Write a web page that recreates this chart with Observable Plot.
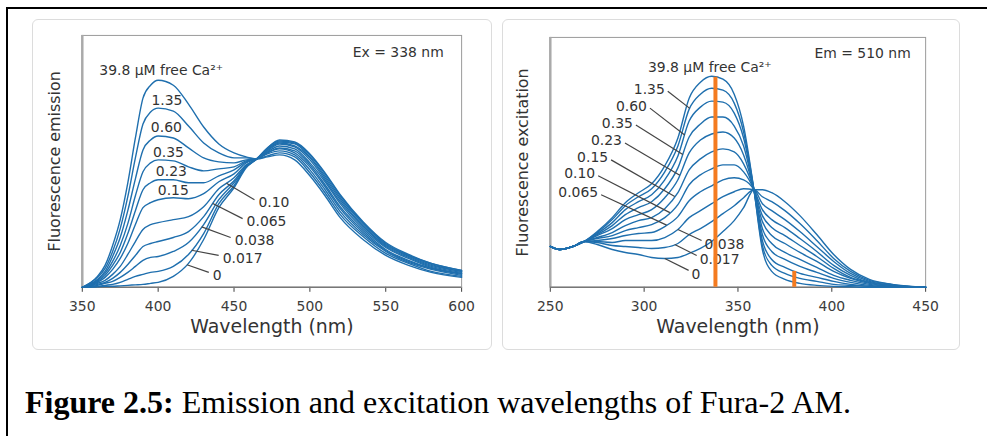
<!DOCTYPE html>
<html><head><meta charset="utf-8">
<script src="https://cdn.jsdelivr.net/npm/d3@7"></script>
<script src="https://cdn.jsdelivr.net/npm/@observablehq/plot@0.6"></script>
<style>
html,body{margin:0;padding:0;background:#fff;width:987px;height:436px;overflow:hidden;position:relative;font-family:"DejaVu Sans",sans-serif}
#outer{position:absolute;left:6px;top:7px;width:2000px;height:2000px;border:2px solid #000;box-sizing:border-box}
.panel{position:absolute;top:19px;height:331px;border:1px solid #dcdcdc;border-radius:6px;box-sizing:border-box;background:#fff}
#p1{left:32px;width:460px}
#p2{left:502px;width:458px}
.panel svg{position:absolute;left:-1px;top:-1px}
#caption{position:absolute;left:25px;top:386px;font-family:"Liberation Serif","Times New Roman",serif;font-size:32px;line-height:32px;color:#000;white-space:nowrap}
</style></head>
<body>
<div id="outer"></div>
<div class="panel" id="p1"></div>
<div class="panel" id="p2"></div>
<div id="caption"><b>Figure 2.5:</b> Emission and excitation wavelengths of Fura-2 AM.</div>
<script>
// ---------- Emission panel (Ex = 338 nm) ----------
const emWl = [350,360,365,370,375,380,385,390,395,400,410,420,430,440,450,458,465,472,480,490,500,510,520,535,550,565,580,600];
const em_0     = [0,0.5,1,1,1.5,2,2.5,3,4,5,11,24,48,80,100,120,129,140,148,146,134,115,93,66,45,33,24,17];
const em_0017  = [0,1,2,3,5,8,11,13,15,16,21,33,54,84,102,121,129,140,147,145,133,114,92,65,44,32,24,17];
const em_0038  = [0,2,4,6,10,15,21,27,30,31,36,45,63,88,105,121,129,139,146,144,131,112,90,64,43,32,23,16];
const em_0065  = [0,3,5,9,15,23,32,41,44,46,50,56,71,93,107,122,129,138,145,142,130,110,88,62,42,31,22,16];
const em_010   = [0,4,7,13,21,33,46,58,63,65,68,71,81,99,110,123,129,137,144,141,128,108,86,61,41,30,21,15];
const em_015   = [0,5,10,18,29,44,63,80,85,88,90,89,94,106,114,125,129,136,142,139,125,106,84,59,40,29,20,14];
const em_023   = [0,6,12,22,35,54,77,98,105,108,108,105,105,112,118,126,129,135,140,137,123,103,81,57,38,27,19,14];
const em_035   = [0,7,14,26,42,64,92,116,125,128,127,121,117,119,121,127,129,135,139,135,121,101,79,55,37,26,19,13];
const em_060   = [0,8,16,31,50,77,109,138,148,152,150,140,130,126,125,128,129,134,137,133,118,98,76,53,36,25,18,12];
const em_135   = [0,10,19,36,59,91,130,164,176,180,177,162,145,135,130,130,129,132,135,131,115,95,73,51,34,24,16,11];
const em_398   = [0,11,22,42,68,105,150,190,203,208,203,184,161,144,135,131,129,131,133,128,112,92,70,48,32,22,15,10];
const emTicks = [350,400,450,500,550,600];

// ---------- Excitation panel (Em = 510 nm) ----------
const exWl = [250,255,262,268,275,283,290,297,304,311,318,324,330,336,342,348,353,358.5,363,368,375,383,392,401,410,420,432,450];
const ex_0     = [41,38,41,46,43,38,35,33,30,29,30,34,39,46,56,67,80,98,98,95,86,72,53,33,18,8,3,0];
const ex_0017  = [41,38,41,46,45,42,41,40,39,40,44,53,59,66,74,82,90,98,91,86,77,64,47,29,16,7,3,0];
const ex_0038  = [41,38,41,46,46,45,47,47,47,50,58,70,77,84,91,96,99,98,84,77,68,56,41,26,14,6,2,0];
const ex_0065  = [41,38,41,46,47,49,52,54,55,61,71,87,96,102,108,110,108,98,78,68,60,49,36,22,12,5,2,0];
const ex_010   = [41,38,41,46,49,52,57,60,63,70,83,103,113,119,123,123,116,98,72,60,52,42,31,19,10,5,2,0];
const ex_015   = [41,38,41,46,50,55,62,67,70,79,95,118,129,136,139,136,124,98,66,52,44,35,26,16,9,4,1,0];
const ex_023   = [41,38,41,46,52,59,68,73,78,90,108,135,148,154,156,150,133,98,59,44,35,28,20,12,7,3,1,0];
const ex_035   = [41,38,41,46,53,62,73,80,86,99,120,151,164,171,171,162,142,98,53,36,28,21,15,9,5,2,1,0];
const ex_060   = [41,38,41,46,54,65,78,86,93,108,132,167,181,187,186,175,150,98,47,28,20,14,10,6,3,1,0,0];
const ex_135   = [41,38,41,46,55,68,82,91,99,116,142,179,194,200,198,185,156,98,42,22,14,9,6,3,2,1,0,0];
const ex_398   = [41,38,41,46,56,70,85,95,104,122,150,190,206,212,209,194,162,98,38,16,8,4,2,1,0.5,0,0,0];
const exTicks = [250,300,350,400,450];
const exMarkerWl  = [338, 380];
const exMarkerTop = [211, 16];

// concentration labels (µM free Ca2+)
const concLabels = ["0","0.017","0.038","0.065","0.10","0.15","0.23","0.35","0.60","1.35","39.8"];
const emSeries = [em_0,em_0017,em_0038,em_0065,em_010,em_015,em_023,em_035,em_060,em_135,em_398];
const exSeries = [ex_0,ex_0017,ex_0038,ex_0065,ex_010,ex_015,ex_023,ex_035,ex_060,ex_135,ex_398];

// annotations (data coordinates)
const emUpper  = [["1.35",405.8,188],["0.60",405.4,160],["0.35",406.8,135],["0.23",408.7,116],["0.15",410,97]];
const emLeader = [["0.10",466.1,85,445],["0.065",458.3,66,436],["0.038",450.4,47,428.7],["0.017",442.5,29,422],["0",436,12,419]];
const exUpper  = [["1.35",311.0,199,324.3],["0.60",301.5,182,321.6],["0.35",294.0,165,320.6],["0.23",288.2,147,319],["0.15",280.8,130,316.3],["0.10",273.9,114,313.7],["0.065",275.5,95,312]];
const exLower  = [["0.038",332.2,43,318],["0.017",329.6,28,316.3],["0",325.3,13,311]];

const BLUE = "#1f6fae", TXT = "#333", ORANGE = "#f47b20";

function rowsOf(wl, series){
  const out = [];
  series.forEach((vals, k) => vals.forEach((v, i) => out.push({wl: wl[i], v, c: concLabels[k]})));
  return out;
}
function valAt(wl, vals, w){
  for (let i = 0; i < wl.length - 1; i++) {
    if (w >= wl[i] && w <= wl[i+1]) { const t = (w - wl[i]) / (wl[i+1] - wl[i]); return vals[i] + t * (vals[i+1] - vals[i]); }
  }
  return vals[vals.length - 1];
}
const seriesOf = (series, name) => series[concLabels.indexOf(name)];
const baseStyle = {fontFamily: "DejaVu Sans", fontSize: "14px", color: "#3c3c3c", background: "transparent", overflow: "visible"};

// ---------- Panel 1 ----------
{
  const W = 460, H = 331, mL = 50, mR = 29, mT = 16, mB = 62;
  const nmPerPx = (600 - 350) / (W - mL - mR);
  const leaders = emLeader.map(([t, tx, ty, cw]) => ({
    x1: cw, y1: valAt(emWl, seriesOf(emSeries, t), cw), x2: tx - 4 * nmPerPx, y2: ty + 3
  }));
  const p = Plot.plot({
    width: W, height: H, marginLeft: mL, marginRight: mR, marginTop: mT, marginBottom: mB,
    x: {domain: [350, 600], ticks: emTicks, tickSize: 5, tickPadding: 9, label: null},
    y: {domain: [0, 253], axis: null},
    style: baseStyle,
    marks: [
      Plot.frame({stroke: "#9a9a9a"}),
      Plot.ruleX([350], {stroke: "#aaa", strokeWidth: 2.5}),
      Plot.ruleY([0], {stroke: "#777", strokeWidth: 1.5}),
      Plot.line(rowsOf(emWl, emSeries), {x: "wl", y: "v", z: "c", stroke: BLUE, strokeWidth: 1.4, curve: "monotone-x"}),
      Plot.link(leaders, {x1: "x1", y1: "y1", x2: "x2", y2: "y2", stroke: "#444", strokeWidth: 1.2}),
      Plot.text(emUpper, {x: d => d[1], y: d => d[2], text: d => d[0], fontSize: 14, fill: TXT}),
      Plot.text(emLeader, {x: d => d[1], y: d => d[2], text: d => d[0], fontSize: 14, fill: TXT, textAnchor: "start"}),
      Plot.text(["39.8 µM free Ca²⁺"], {x: () => 402, y: () => 218, fontSize: 14, fill: TXT}),
      Plot.text(["Ex = 338 nm"], {frameAnchor: "top-right", dx: -18, dy: 17, textAnchor: "end", lineAnchor: "middle", fontSize: 14, fill: TXT}),
      Plot.text(["Wavelength (nm)"], {frameAnchor: "bottom", dy: 40, textAnchor: "middle", lineAnchor: "middle", fontSize: 19, fill: TXT}),
      Plot.text(["Fluorescence emission"], {frameAnchor: "left", rotate: -90, dx: -28, textAnchor: "middle", lineAnchor: "middle", fontSize: 16, fill: TXT})
    ]
  });
  document.getElementById("p1").appendChild(p);
}

// ---------- Panel 2 ----------
{
  const W = 458, H = 331, mL = 48, mR = 33, mT = 18, mB = 62;
  const nmPerPx = (450 - 250) / (W - mL - mR);
  const upLinks = exUpper.map(([t, tx, ty, cw]) => ({
    x1: tx + 3 * nmPerPx, y1: ty - 2, x2: cw, y2: valAt(exWl, seriesOf(exSeries, t), cw)
  }));
  const lowLinks = exLower.map(([t, tx, ty, cw]) => ({
    x1: tx - 3 * nmPerPx, y1: ty + 4, x2: cw, y2: valAt(exWl, seriesOf(exSeries, t), cw)
  }));
  const markers = exMarkerWl.map((w, i) => ({w, top: exMarkerTop[i]}));
  const p = Plot.plot({
    width: W, height: H, marginLeft: mL, marginRight: mR, marginTop: mT, marginBottom: mB,
    x: {domain: [250, 450], ticks: exTicks, tickSize: 5, tickPadding: 9, label: null},
    y: {domain: [0, 251], axis: null},
    style: baseStyle,
    marks: [
      Plot.frame({stroke: "#9a9a9a"}),
      Plot.ruleX([250], {stroke: "#aaa", strokeWidth: 2.5}),
      Plot.ruleY([0], {stroke: "#777", strokeWidth: 1.5}),
      Plot.line(rowsOf(exWl, exSeries), {x: "wl", y: "v", z: "c", stroke: BLUE, strokeWidth: 1.4, curve: "monotone-x"}),
      Plot.link(upLinks.concat(lowLinks), {x1: "x1", y1: "y1", x2: "x2", y2: "y2", stroke: "#444", strokeWidth: 1.2}),
      Plot.text(exUpper, {x: d => d[1], y: d => d[2], text: d => d[0], fontSize: 14, fill: TXT, textAnchor: "end"}),
      Plot.text(exLower, {x: d => d[1], y: d => d[2], text: d => d[0], fontSize: 14, fill: TXT, textAnchor: "start"}),
      Plot.text(["39.8 µM free Ca²⁺"], {x: () => 335, y: () => 221, fontSize: 14, fill: TXT}),
      Plot.text(["Em = 510 nm"], {frameAnchor: "top-right", dx: -15, dy: 16, textAnchor: "end", lineAnchor: "middle", fontSize: 14, fill: TXT}),
      Plot.text(["Wavelength (nm)"], {frameAnchor: "bottom", dy: 40, textAnchor: "middle", lineAnchor: "middle", fontSize: 19, fill: TXT}),
      Plot.text(["Fluorescence excitation"], {frameAnchor: "left", rotate: -90, dx: -28, textAnchor: "middle", lineAnchor: "middle", fontSize: 16, fill: TXT}),
      Plot.ruleX(markers, {x: "w", y1: () => 0, y2: "top", stroke: ORANGE, strokeWidth: 4})
    ]
  });
  document.getElementById("p2").appendChild(p);
}
</script>
</body></html>
